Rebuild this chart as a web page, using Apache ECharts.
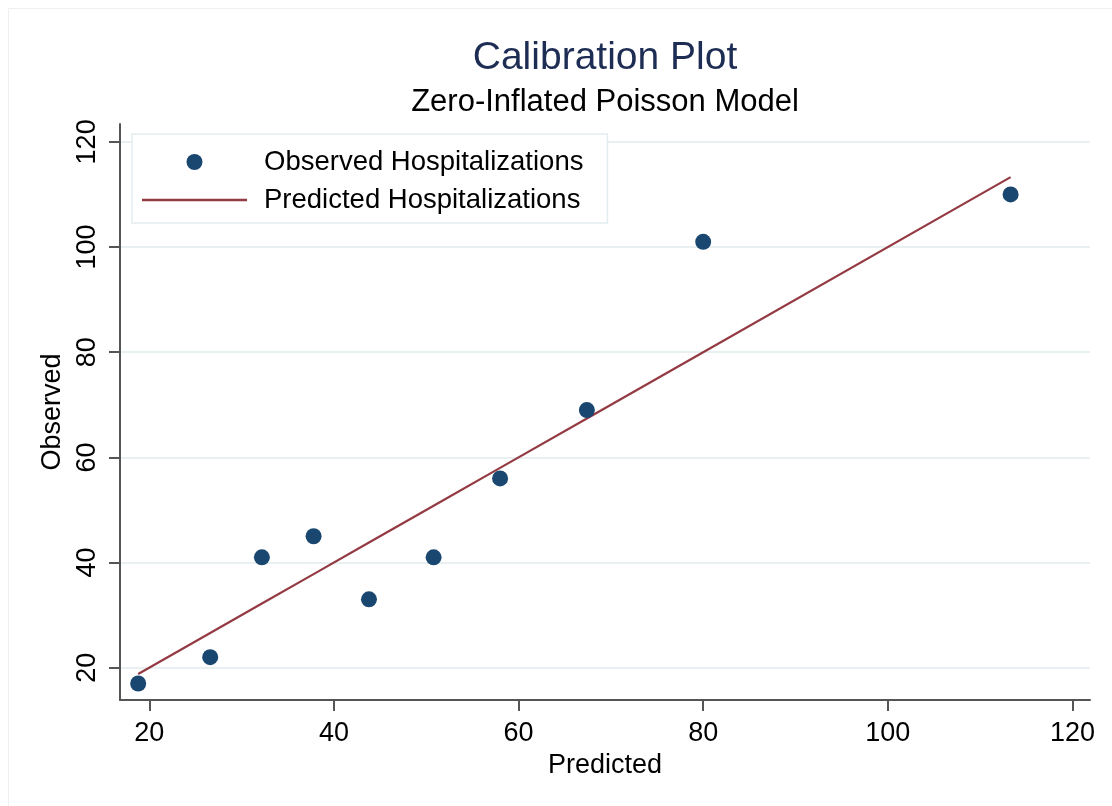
<!DOCTYPE html>
<html>
<head>
<meta charset="utf-8">
<script src="https://cdn.jsdelivr.net/npm/echarts@6/dist/echarts.min.js"></script>
<style>html,body{margin:0;padding:0;background:#fff}#c{width:1112px;height:806px}</style>
</head>
<body>
<div id="c"></div>
<script>
const predicted = [18.8, 26.6, 32.2, 37.8, 43.8, 50.8, 58.0, 67.4, 80.0, 113.3];
const observed  = [17, 22, 41, 45, 33, 41, 56, 69, 101, 110];
const xTicks = [20, 40, 60, 80, 100, 120];
const yTicks = [20, 40, 60, 80, 100, 120];
const titleText = 'Calibration Plot';
const subtitleText = 'Zero-Inflated Poisson Model';
const xName = 'Predicted';
const yName = 'Observed';
const seriesNames = ['Observed Hospitalizations', 'Predicted Hospitalizations'];

const FONT = '"Liberation Sans", Arial, sans-serif';
const chart = echarts.init(document.getElementById('c'), null, {renderer: 'canvas'});

const scatterData = predicted.map((p, i) => [p, observed[i]]);
const lineData = predicted.map(p => [p, p]);

chart.setOption({
  backgroundColor: '#ffffff',
  animation: false,
  graphic: [
    {type: 'rect', left: 6, top: 6, shape: {width: 1200, height: 900},
     style: {fill: 'none', stroke: '#efefef', lineWidth: 1}, silent: true, z: -10},
    {type: 'text', x: 605, y: 58, style: {text: titleText, fontSize: 39, fontFamily: FONT,
      fill: '#1e2d53', textAlign: 'center', textVerticalAlign: 'middle'}},
    {type: 'text', x: 605, y: 102, style: {text: subtitleText, fontSize: 31, fontFamily: FONT,
      fill: '#000000', textAlign: 'center', textVerticalAlign: 'middle'}}
  ],
  grid: {left: 120, right: 22, top: 124, bottom: 106, containLabel: false},
  legend: {
    orient: 'vertical', left: 132, top: 134,
    padding: [13, 24, 8, 10], itemGap: 8,
    itemWidth: 105, itemHeight: 16,
    backgroundColor: '#ffffff', borderColor: '#e3edf0', borderWidth: 1.5,
    textStyle: {fontSize: 27.5, fontFamily: FONT, color: '#000', padding: [0, 0, 0, 12], lineHeight: 30},
    data: [seriesNames[0], {name: seriesNames[1], icon: 'path://M0,0 L105,0 L105,2.6 L0,2.6 Z'}]
  },
  xAxis: {
    type: 'value', min: 16.83, max: 121.9,
    name: xName, nameLocation: 'middle', nameGap: 52,
    nameTextStyle: {fontSize: 27, fontFamily: FONT, color: '#000'},
    axisLine: {show: true, onZero: false, lineStyle: {color: '#555', width: 2}},
    axisTick: {show: true, length: 11, customValues: xTicks, lineStyle: {color: '#555', width: 2}},
    axisLabel: {customValues: xTicks, fontSize: 27, fontFamily: FONT, color: '#000', margin: 20},
    splitLine: {show: false}
  },
  yAxis: {
    type: 'value', min: 13.86, max: 123.4,
    name: yName, nameLocation: 'middle', nameGap: 50,
    nameTextStyle: {fontSize: 27, fontFamily: FONT, color: '#000'},
    axisLine: {show: true, onZero: false, lineStyle: {color: '#555', width: 2}},
    axisTick: {show: true, length: 11, customValues: yTicks, lineStyle: {color: '#555', width: 2}},
    axisLabel: {customValues: yTicks, fontSize: 27, fontFamily: FONT, color: '#000', margin: 19, rotate: 90},
    splitLine: {show: true, lineStyle: {color: '#e8f0f2', width: 2}}
  },
  series: [
    {name: seriesNames[0], type: 'scatter', data: scatterData, symbol: 'circle', symbolSize: 16,
     itemStyle: {color: '#1a476f', opacity: 1}, z: 3},
    {name: seriesNames[1], type: 'line', data: lineData, symbol: 'none', showSymbol: false,
     lineStyle: {color: '#943a42', width: 2.2}, itemStyle: {color: '#943a42'}, z: 2}
  ]
});
</script>
</body>
</html>
